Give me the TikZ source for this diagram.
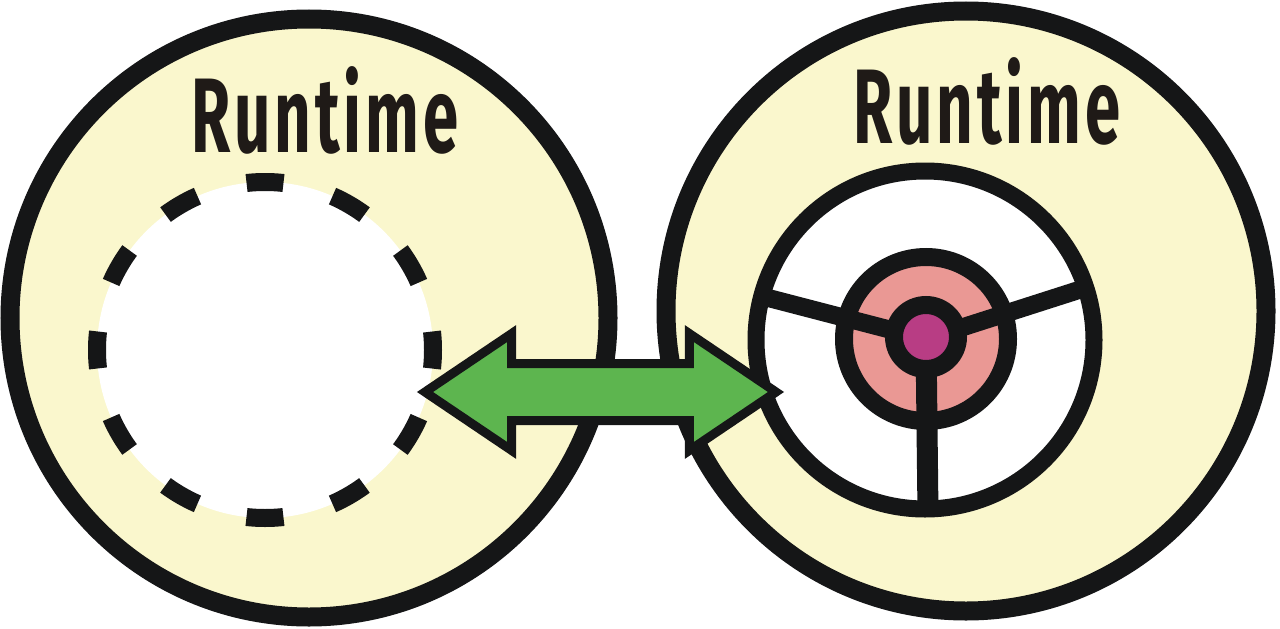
\documentclass[tikz,border=0pt]{standalone}
\usepackage{fontspec}
\usepackage{xcolor}
\usepackage{tikz}
\usetikzlibrary{shapes.arrows}
\newfontfamily\handfont[LetterSpace=6]{Fira Sans}
\definecolor{rtyellow}{RGB}{250, 247, 205}
\definecolor{inkblack}{RGB}{21, 22, 23}
\definecolor{linkgreen}{RGB}{93, 181, 79}
\definecolor{ringpink}{RGB}{234, 152, 148}
\definecolor{hubmagenta}{RGB}{184, 61, 132}
\definecolor{labeltext}{RGB}{31, 26, 23}

\tikzset{
    disc/.style={circle, draw=inkblack, inner sep=0pt, outer sep=0pt},
    runtime/.style={disc, line width=19pt, fill=rtyellow, minimum size=#1},
    rtlabel/.style={anchor=base, inner sep=0pt, text=labeltext, xscale=0.6,
        font={\handfont\bfseries\fontsize{106}{110}\selectfont}},
    spoke/.style={draw=inkblack, line width=18pt}
}

\begin{document}
\begin{tikzpicture}[x=1pt, y=-1pt]
\useasboundingbox (0,0) rectangle (1280,629);

% two runtimes
\node [runtime=598pt] (leftrt) at (309,318) {};
\node [runtime=600pt] (rightrt) at (966,311) {};

% empty slot on the left
\node [
    disc,
    fill=white,
    line width=18pt,
    dash pattern=on 37pt off 50.97pt,
    dash phase=18.5pt,
    minimum size=336pt
] (slot) at (265,350) {};

% wheel on the right
\node [disc, fill=white, line width=17pt, minimum size=338pt] (wheel) at (925,340) {};
\node [disc, fill=ringpink, line width=18pt, minimum size=164pt] (ring) at (926,339) {};
\draw [spoke] (ring.center) -- (wheel.165);
\draw [spoke] (ring.center) -- (wheel.18);
\draw [spoke, line width=21pt] (ring.center) -- (wheel.-89);
\node [disc, fill=hubmagenta, line width=18pt, minimum size=64pt] (hub) at (926,337) {};

% exchange between the two
\node [
    double arrow,
    draw=inkblack,
    line width=9pt,
    fill=linkgreen,
    inner xsep=0pt,
    inner ysep=24pt,
    minimum height=351pt,
    minimum width=112pt,
    double arrow head extend=30pt,
    double arrow tip angle=68
] (link) at (600.5,392) {};

\node [rtlabel] (leftname) at (325,152) {Runtime};
\node [rtlabel] (rightname) at (987,143) {Runtime};
\end{tikzpicture}
\end{document}
